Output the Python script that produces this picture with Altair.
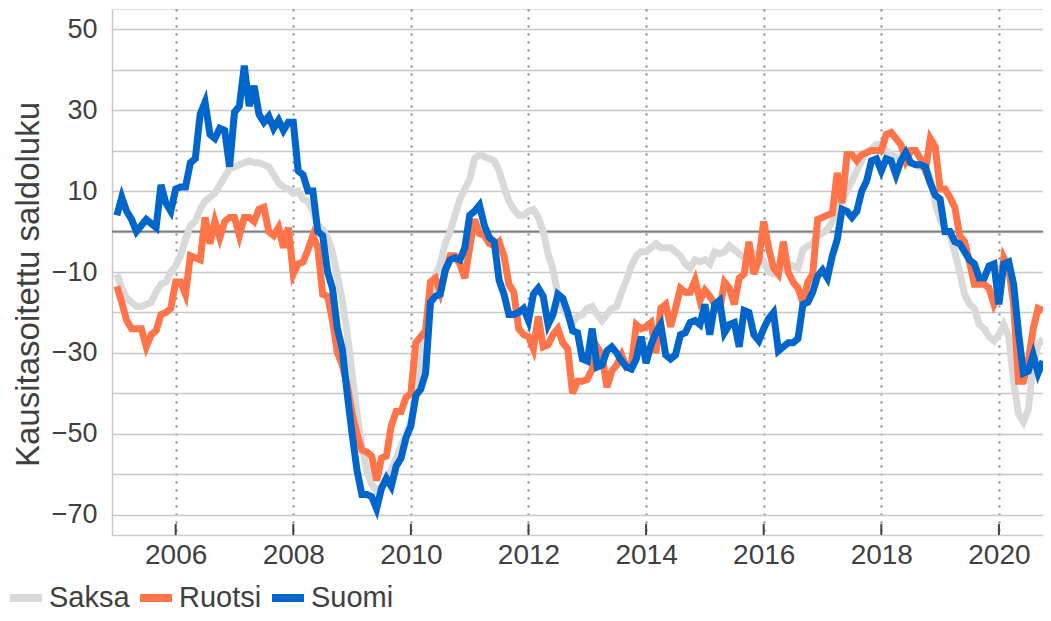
import altair as alt
import pandas as pd

start_year = 2005

saksa = [
    -10.5, -14, -16.5, -17.5, -18.5, -18.5, -18, -17.5, -15, -13, -12.5, -10,
    -8.5, -6, -2, 1.5, 2.5, 5.5, 7.5, 8.5, 9.5, 11.5, 13.5, 15.5,
    16, 16.5, 17, 17.5, 17, 17, 16.5, 16, 14, 12, 11, 10.5,
    9.5, 10, 8, 7.5, 5, 1.5, 0.5, -1.5, -5, -11, -17, -25,
    -35, -45, -53, -59, -62.5, -64, -63, -61, -59, -56, -53, -50,
    -47, -41, -32, -25, -18, -11, -8, -3, 0, 4, 8, 10.5,
    13, 18, 19, 18.5, 18, 17.5, 15, 11, 7.5, 5.5, 4, 4,
    5, 5.5, 3.5, 0, -5.5, -9.5, -15.5, -19, -21, -22.5, -21, -20.5,
    -19, -18.5, -20.5, -22, -20.5, -19, -18.5, -15, -12, -8.5, -6, -5,
    -5, -4, -3, -4, -4, -4, -5, -6, -8, -9, -7, -7.5,
    -7, -8, -5, -5.5, -5, -3.5, -4.5, -5.5, -6.5, -7, -5.5, -5.5,
    -7.5, -10, -10.5, -10.5, -8, -8, -8.5, -9, -4.5, -3.5, -3, -1,
    -0.5, 0.5, 2.5, 6, 7.5, 10, 12.5, 15, 17.5, 19.5, 20.5, 21.5,
    21.5, 20, 19, 18.5, 18, 17, 17, 16.5, 16, 15.5, 13.5, 7,
    3, 0.5, -1, -5, -10, -15.5, -18, -19, -23, -24, -26, -27,
    -25.5, -23, -26, -37, -45, -47, -44, -33, -28, -26.5,
]

ruotsi = [
    -13.5, -17.5, -22, -24, -24, -24, -28.5, -25.5, -24.5, -20.5, -20, -19,
    -12.5, -12.5, -15.5, -6, -6.5, -7, 3.5, -3, 2.5, -1.5, 2.5, 3.5,
    3.5, -1, 3.5, 3.5, 2.5, 5.5, 6, 0, -1, 1, -4, 1,
    -10.5, -8, -7.5, -4.5, -1, -4, -15.5, -16, -22, -30, -33, -38,
    -45, -50, -54, -54.5, -55.5, -61.5, -56, -55.5, -48, -44.5, -44.5, -41,
    -40, -27.5, -26, -24.5, -12.5, -11.5, -15, -10, -6, -6, -8, -11.5,
    -4, 3, -0.5, -1, -3, -3.5, -2.5, -6, -13, -15, -24, -25.5,
    -26, -29, -21, -28.5, -28, -25.5, -24, -27.5, -29, -40, -37, -37,
    -36.5, -34, -28.5, -30.5, -38.5, -34.5, -33, -30.5, -33.5, -33, -23, -24,
    -23.5, -22.5, -30, -19, -18, -23.5, -19, -14, -15, -15, -12, -17,
    -14.5, -16, -18, -19.5, -12.5, -14, -18, -11.5, -10.5, -2.5, -10.5, -7,
    2.5, -4, -9, -10.5, -2.5, -10, -12.5, -14, -17.5, -12.5, -10.5, 3,
    3.5, 4, 4.5, 14.5, 7, 19, 19, 17.5, 19, 19.5, 20, 20,
    20, 24, 24.5, 23, 21.5, 17.5, 20, 20, 18, 15, 23, 21,
    10.5, 10.5, 8.5, 6, -1, -2.5, -7.5, -13, -13, -13, -14, -18,
    -15.5, -6.5, -9, -18, -37, -37, -32, -24, -19, -19.5,
]

suomi = [
    4, 8.5, 5, 3, 0, 1.5, 3, 2, 1, 11.5, 7, 5,
    10.5, 11, 11, 17, 18, 29, 32, 24, 23, 25.5, 25, 16,
    29.5, 31, 41, 31, 36, 29, 27, 28.5, 25.5, 27.5, 25, 27,
    27, 15, 14, 10, 10, 0, -1, -10, -14, -24, -29, -40,
    -50, -59, -65, -65, -65.5, -68.5, -63.5, -61, -63, -58, -56, -51,
    -48, -40.5, -39, -35, -17.5, -16, -15.5, -9.5, -7, -6.5, -7, -4,
    4, 5, 6.5, 1.5, -1.5, -2.5, -12, -15.5, -20.5, -20.5, -20, -19,
    -22, -15.5, -14, -16, -23, -20.5, -15.5, -16.5, -20, -24.5, -25, -31.5,
    -32, -24, -33.5, -33, -29.5, -28.5, -30, -32, -33.5, -34, -31.5, -26,
    -32.5, -28, -25, -23, -30.5, -31.5, -30.5, -25.5, -25, -22.5, -22, -23,
    -18, -25.5, -18, -17, -25, -23, -22.5, -28.5, -19.5, -20, -25.5, -27,
    -24, -21.5, -20, -29.5, -28.5, -27.5, -27.5, -26.5, -18, -17.5, -15, -11,
    -9.5, -11.5, -6, -2, 5.5, 5, 3.5, 5, 10, 12.5, 17.5, 18,
    15, 18, 17.5, 14, 17.5, 19.5, 17, 16.5, 16.5, 16, 12, 9,
    8, 0, 0, -2.5, -3, -5, -7, -8, -11.5, -11.5, -8.5, -8,
    -18, -8, -7.5, -13, -25, -35, -34.5, -30.5, -35, -32,
]

series_names = ["Saksa", "Ruotsi", "Suomi"]
series_colors = ["#D9D9D9", "#FF7448", "#0066CC"]
year_ticks = [2006, 2008, 2010, 2012, 2014, 2016, 2018, 2020]
y_grid = list(range(-70, 60, 10))

rows = []
for name, vals in zip(series_names, [saksa, ruotsi, suomi]):
    for i, v in enumerate(vals):
        rows.append({"aika": start_year + i / 12, "arvo": v, "maa": name})
df = pd.DataFrame(rows)

FONT = "Liberation Sans"
TXT = "#404040"

xscale = alt.Scale(domain=[2004.917, 2020.75], nice=False, zero=False)
yscale = alt.Scale(domain=[-75, 55], nice=False, zero=False)

color = alt.Color(
    "maa:N",
    scale=alt.Scale(domain=series_names, range=series_colors),
    legend=alt.Legend(
        title=None, orient="none", legendX=-106, legendY=569,
        direction="horizontal", symbolType="stroke", symbolStrokeWidth=8,
        symbolSize=1024, labelFontSize=29, labelColor=TXT, labelFont=FONT,
        labelOffset=3, columnPadding=-6, padding=0, gridAlign="none",
    ),
)

x_axis = alt.Axis(
    values=year_ticks, format="d", title=None, grid=True,
    gridColor="#808080", gridDash=[2, 6], gridWidth=2, ticks=False,
    domainColor="#cccccc", domainWidth=1.5, labelFontSize=28,
    labelColor=TXT, labelFont=FONT, labelPadding=6,
)
y_axis = alt.Axis(
    values=y_grid,
    labelExpr="(datum.value + 70) % 20 == 0 ? datum.label : ''",
    title="Kausitasoitettu saldoluku", titleFontSize=33,
    titleFontWeight="normal", titleColor=TXT, titleFont=FONT,
    titleX=-84, titleY=275, titleAngle=270, titleAlign="center",
    titleBaseline="middle",
    grid=True, gridColor="#c8c8c8", gridWidth=1.5, ticks=False,
    domainColor="#c8c8c8", domainWidth=1.5, labelFontSize=27,
    labelPadding=15, labelColor=TXT, labelFont=FONT,
)

base = alt.Chart(df).encode(
    x=alt.X("aika:Q", scale=xscale, axis=x_axis),
    y=alt.Y("arvo:Q", scale=yscale, axis=y_axis),
    color=color,
)

zero_df = pd.DataFrame({"arvo": [0]})
zero_line = alt.Chart(zero_df).mark_rule(color="#808080", strokeWidth=2).encode(
    y=alt.Y("arvo:Q", scale=yscale)
)

tick_df = pd.DataFrame({"aika": year_ticks, "arvo": [-75] * len(year_ticks),
                        "arvo2": [-72.3] * len(year_ticks)})
tick_marks = alt.Chart(tick_df).mark_rule(color=TXT, strokeWidth=2).encode(
    x=alt.X("aika:Q", scale=xscale),
    y=alt.Y("arvo:Q", scale=yscale),
    y2="arvo2:Q",
)

lines = [
    base.transform_filter(alt.datum.maa == name).mark_line(
        strokeWidth=7, strokeJoin="miter", strokeCap="butt"
    )
    for name in series_names
]

chart = alt.layer(base.mark_line(opacity=0), zero_line, tick_marks, *lines).properties(
    width=931,
    height=526,
    padding={"left": 104, "top": 1, "right": 0, "bottom": 78},
    autosize=alt.AutoSizeParams(type="none"),
).configure_view(stroke=None).configure(font=FONT)

chart.save("out.html", embed_options={"renderer": "svg", "actions": False})
